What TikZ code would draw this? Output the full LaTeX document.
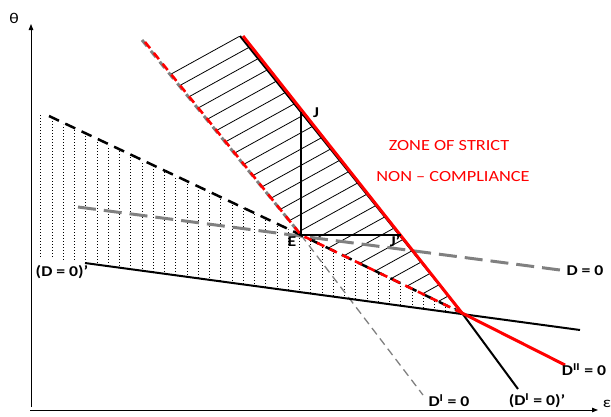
\documentclass[tikz,border=0pt]{standalone}
\usepackage{fontspec}
\setmainfont{Carlito}
\usetikzlibrary{arrows.meta}

\newcommand{\wide}[1]{\scalebox{1.18}[1]{#1}}

\begin{document}
\begin{tikzpicture}[
    x=1pt, y=-1pt,
    axis/.style={line width=0.9pt, -{Triangle[length=6pt, width=4.5pt]}},
    bline/.style={line width=2pt},
    rline/.style={red, line width=3pt},
    bdash/.style={line width=2.5pt, dash pattern=on 11pt off 7pt},
    rdash/.style={red, line width=2.6pt, dash pattern=on 8pt off 6pt},
    gdash/.style={gray, line width=3pt, dash pattern=on 18pt off 8pt},
    gthin/.style={gray, line width=1.3pt, dash pattern=on 8pt off 5pt},
    hatchline/.style={line width=0.8pt},
    dotline/.style={line width=0.9pt, dash pattern=on 0.9pt off 2.1pt},
    lbl/.style={font=\fontsize{15}{15}\selectfont\bfseries, inner sep=0pt},
    zone/.style={red, font=\fontsize{15.5}{15.5}\selectfont, inner sep=0pt},
    axlbl/.style={font=\fontsize{15}{15}\selectfont, inner sep=0pt}
]
\useasboundingbox (0,0) rectangle (611,416);

% key points
\coordinate (E) at (301,235);
\coordinate (J) at (301,112);
\coordinate (Jp) at (401,235);
\coordinate (P) at (462,313);
\coordinate (yend) at (31,24);
\coordinate (ybot) at (31,407);
\coordinate (xbeg) at (30,410);
\coordinate (xend) at (598,410);

% dotted area
\begin{scope}
  \clip (38,113) -- (E) -- (P) -- (38,257) -- cycle;
  \foreach \i in {0,...,37}
    \draw[dotline] ({40.7+11.25*\i},100) -- ++(0,240);
\end{scope}

% hatched area
\begin{scope}
  \clip (240,36) -- (P) -- (E) -- (145,42) -- cycle;
  \foreach \k [evaluate=\k as \c using 168.5+16.3*\k] in {0,...,25}
    \draw[hatchline] (120,{\c-0.552*120}) -- (520,{\c-0.552*520});
\end{scope}

% axes
\draw[axis] (ybot) -- (yend);
\draw[axis] (xbeg) -- (xend);

% grey lines
\coordinate (dIend) at (423,395);
\coordinate (dbeg) at (78,207);
\coordinate (dend) at (560,270);
\draw[gthin] (E) -- (dIend);
\draw[gdash] (dbeg) -- (dend);

% black lines
\coordinate (dpbeg) at (85,263);
\coordinate (dpend) at (580,330);
\coordinate (stop) at (240,36);
\coordinate (dIpend) at (518,389);
\coordinate (dashbeg) at (49,116);
\draw[bline] (dpbeg) -- (dpend);
\draw[bline] (stop) -- (P) -- (dIpend);
\draw[bdash] (dashbeg) -- (E) -- (P);

% red lines
\coordinate (gtop) at (142,40);
\coordinate (rdtop) at (145,42);
\coordinate (rtop) at (243,36);
\coordinate (dIIend) at (565,365);
\draw[gdash, dash pattern=on 8pt off 6pt] (gtop) -- (E);
\draw[rdash] (rdtop) -- (E) -- (P);
\draw[rline] (rtop) -- (P) -- (dIIend);

% E, J, J'
\draw[line width=1.5pt] (E) -- (J);
\draw[line width=1.5pt] (E) -- (Jp);

% labels
\node[axlbl] (theta) at (14,18) {\wide{θ}};
\node[axlbl] (eps) at (607,404) {\wide{ε}};
\node[lbl] (lJ) at (316,113) {\wide{J}};
\node[lbl] (lE) at (292,242) {\wide{E}};
\node[lbl] (lJp) at (395,241) {\wide{J’}};
\node[zone] (zone1) at (449,146) {\wide{ZONE OF STRICT}};
\node[zone] (zone2) at (453,177) {\wide{NON – COMPLIANCE}};
\node[lbl] (lD) at (585,271) {\wide{D = 0}};
\node[lbl] (lDp) at (62,272) {\wide{(D = 0)’}};
\node[lbl] (lDII) at (584,370) {\wide{D\textsuperscript{II} = 0}};
\node[lbl] (lDI) at (449,401) {\wide{D\textsuperscript{I} = 0}};
\node[lbl] (lDIp) at (537,401) {\wide{(D\textsuperscript{I} = 0)’}};
\end{tikzpicture}
\end{document}
